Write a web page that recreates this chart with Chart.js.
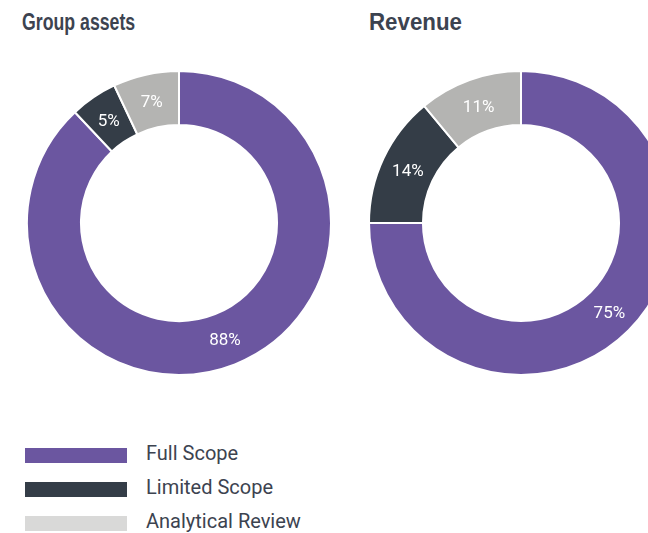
<!DOCTYPE html>
<html>
<head>
<meta charset="utf-8">
<script src="https://cdn.jsdelivr.net/npm/chart.js@4"></script>
<style>
  html, body { margin: 0; padding: 0; background: #fff; width: 648px; height: 533px; overflow: hidden; }
  .title { position: absolute; top: 9px; font-family: "Liberation Sans", Arial, sans-serif; font-weight: bold; font-size: 23px; color: #3c4350; transform-origin: left top; white-space: nowrap; }
  .box { position: absolute; top: 70px; width: 306px; height: 306px; }
  #legend { position: absolute; left: 25px; top: 441px; font-family: Roboto, "Noto Sans", sans-serif; font-size: 20px; color: #3c4350; }
  .row { position: relative; height: 34px; }
  .swatch { position: absolute; left: 0; top: 7px; width: 102px; height: 15px; }
  .label { position: absolute; left: 121px; top: 0px; white-space: nowrap; }
</style>
</head>
<body>
<div class="title" style="left:22px; transform: scaleX(0.77)">Group assets</div>
<div class="title" style="left:369px; transform: scaleX(0.97)">Revenue</div>
<div class="box" style="left:26px"><canvas id="assetsChart"></canvas></div>
<div class="box" style="left:368px"><canvas id="revenueChart"></canvas></div>
<div id="legend"></div>
<script>
// Данные
const categories = ['Full Scope', 'Limited Scope', 'Analytical Review'];
const groupAssets = [88, 5, 7];
const revenue = [75, 14, 11];
const sliceColors = ['#6b56a0', '#343d47', '#b4b4b2'];
const legendColors = ['#6b56a0', '#343d47', '#d9d9d8'];

// Подписи процентов на сегментах
const pctLabels = {
  id: 'pctLabels',
  afterDatasetsDraw(chart) {
    const ctx = chart.ctx;
    const values = chart.data.datasets[0].data;
    ctx.save();
    ctx.fillStyle = '#ffffff';
    ctx.font = '17px Roboto, "Noto Sans", sans-serif';
    ctx.textAlign = 'center';
    ctx.textBaseline = 'middle';
    chart.getDatasetMeta(0).data.forEach((arc, i) => {
      const p = arc.tooltipPosition();
      ctx.fillText(values[i] + '%', p.x, p.y + 2);
    });
    ctx.restore();
  }
};

function makeDonut(id, values) {
  const ctx = document.getElementById(id).getContext('2d');
  return new Chart(ctx, {
    type: 'doughnut',
    data: {
      labels: categories,
      datasets: [{
        data: values,
        backgroundColor: sliceColors,
        borderColor: '#ffffff',
        borderWidth: 2
      }]
    },
    options: {
      responsive: true,
      maintainAspectRatio: false,
      animation: false,
      cutout: '64.5%',
      layout: { padding: 0 },
      plugins: {
        legend: { display: false },
        tooltip: { enabled: false }
      }
    },
    plugins: [pctLabels]
  });
}

makeDonut('assetsChart', groupAssets);
makeDonut('revenueChart', revenue);

// Легенда
const legend = document.getElementById('legend');
categories.forEach((name, i) => {
  const row = document.createElement('div');
  row.className = 'row';
  row.innerHTML = '<div class="swatch" style="background:' + legendColors[i] + '"></div><div class="label">' + name + '</div>';
  legend.appendChild(row);
});
</script>
</body>
</html>
